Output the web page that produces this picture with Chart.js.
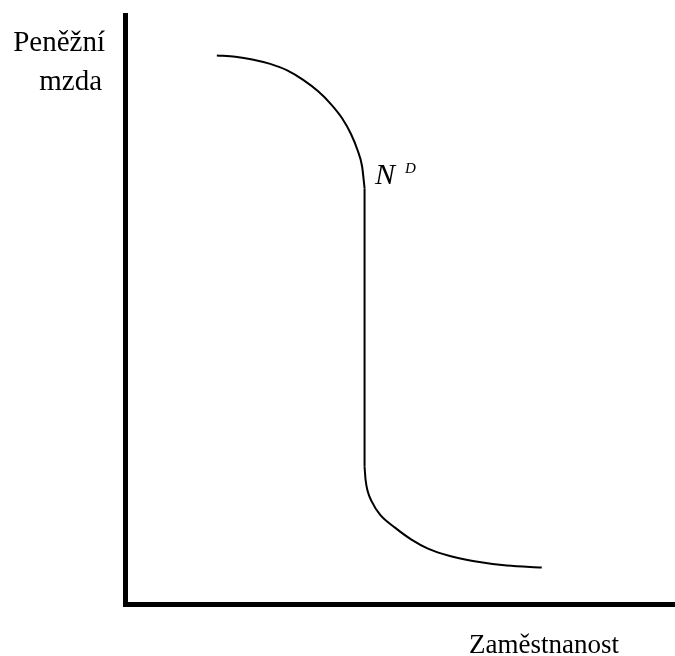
<!DOCTYPE html>
<html>
<head>
<meta charset="utf-8">
<script src="https://cdn.jsdelivr.net/npm/chart.js@4"></script>
<style>
  body { margin: 0; background: #fff; }
  #wrap { width: 675px; height: 656px; }
</style>
</head>
<body>
<div id="wrap"><canvas id="chart"></canvas></div>
<script>
// labels
const yLabel = ['Peněžní', 'mzda'];
const xLabel = 'Zaměstnanost';
const curveName = 'N';
const curveSup = 'D';

// demand curve (x = employment, y = money wage)
const upperArc = [
	{x: 92, y: 549.5}, {x: 110.5, y: 548.2}, {x: 127.5, y: 545.5}, {x: 145.5, y: 541},
	{x: 162.5, y: 534.5}, {x: 178.5, y: 525}, {x: 193.5, y: 513.5}, {x: 206.5, y: 500.5},
	{x: 217.5, y: 486.5}, {x: 226.5, y: 470.5}, {x: 233, y: 454.5}, {x: 237.5, y: 438.5},
	{x: 240, y: 416.5}
];
const verticalPart = [{x: 240, y: 416.5}, {x: 240, y: 137.5}];
const lowerArc = [
	{x: 240, y: 137.5}, {x: 241, y: 124.5}, {x: 243, y: 113.5}, {x: 247, y: 103},
	{x: 255.5, y: 89.5}, {x: 270.5, y: 76.5}, {x: 287, y: 64.5}, {x: 303.5, y: 55.5},
	{x: 325.5, y: 48}, {x: 348.5, y: 43}, {x: 382.5, y: 38.5}, {x: 417.5, y: 36.5}
];

function lineSet(points){
	return {
		data: points,
		showLine: true,
		borderColor: '#000',
		borderWidth: 2,
		pointRadius: 0,
		cubicInterpolationMode: 'monotone',
		fill: false
	};
}

const labelsPlugin = {
	id: 'labels',
	afterDraw(chart){
		const ctx = chart.ctx;
		ctx.save();
		ctx.fillStyle = '#000';
		ctx.textBaseline = 'alphabetic';
		ctx.textAlign = 'right';
		ctx.font = '29px "Liberation Serif"';
		ctx.fillText(yLabel[0], 105, 51);
		ctx.fillText(yLabel[1], 102, 90);
		ctx.font = '27px "Liberation Serif"';
		ctx.fillText(xLabel, 619, 653);
		ctx.textAlign = 'left';
		ctx.font = 'italic 30px "Liberation Serif"';
		ctx.fillText(curveName, 375, 184);
		ctx.font = 'italic 15px "Liberation Serif"';
		ctx.fillText(curveSup, 405, 173);
		ctx.restore();
	}
};

new Chart(document.getElementById('chart').getContext('2d'), {
	type: 'scatter',
	data: { datasets: [lineSet(upperArc), lineSet(verticalPart), lineSet(lowerArc)] },
	options: {
		responsive: true,
		maintainAspectRatio: false,
		animation: false,
		layout: { padding: { left: 117, top: 15, right: 1, bottom: 44 } },
		plugins: { legend: { display: false }, tooltip: { enabled: false } },
		scales: {
			x: {
				min: 0, max: 550,
				grid: { display: false },
				ticks: { display: false },
				border: { display: true, color: '#000', width: 5 }
			},
			y: {
				min: 0, max: 590,
				grid: { display: false },
				ticks: { display: false },
				border: { display: true, color: '#000', width: 5 }
			}
		}
	},
	plugins: [labelsPlugin]
});
</script>
</body>
</html>
